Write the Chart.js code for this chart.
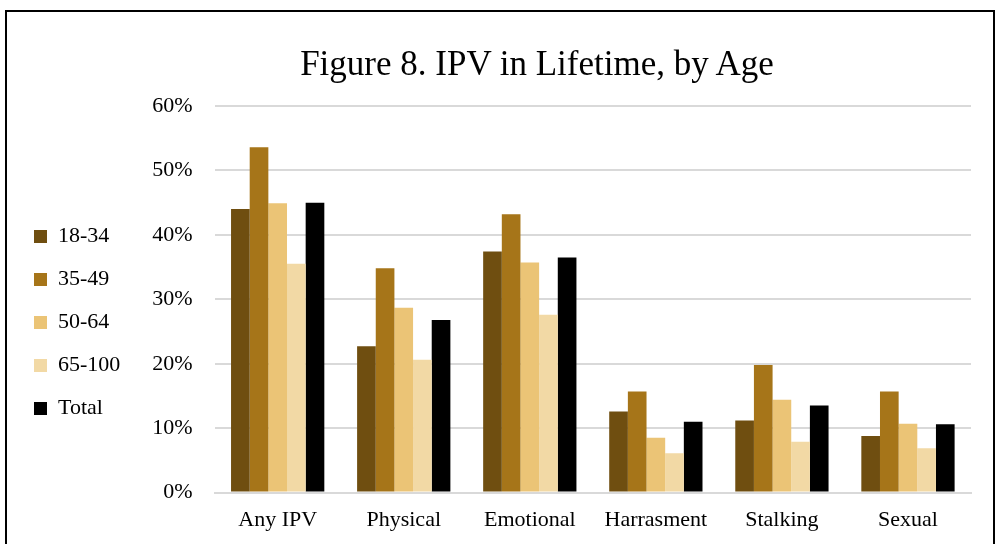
<!DOCTYPE html>
<html>
<head>
<meta charset="utf-8">
<script src="https://cdn.jsdelivr.net/npm/chart.js@4"></script>
<style>
  html, body { margin: 0; padding: 0; background: #fff; overflow: hidden; }
  #frame { position: absolute; left: 5px; top: 10px; width: 990px; height: 560px; border: 2px solid #000; box-sizing: border-box; }
  #wrap { position: absolute; left: 0; top: 0; width: 986px; height: 534px; }
  #title { position: absolute; left: 0; width: 1074px; top: 44px; text-align: center;
           font-family: 'Liberation Serif', 'DejaVu Serif', serif; font-size: 35px; line-height: 40px; color: #000; }
</style>
</head>
<body>
<div id="frame"><div id="wrap"><canvas id="ipvChart"></canvas></div></div>
<div id="title">Figure 8. IPV in Lifetime, by Age</div>
<script>
// Данные
const categories = ['Any IPV', 'Physical', 'Emotional', 'Harrasment', 'Stalking', 'Sexual'];
const age18to34 = [44.0, 22.7, 37.4, 12.6, 11.2, 8.8];
const age35to49 = [53.6, 34.8, 43.2, 15.7, 19.8, 15.7];
const age50to64 = [44.9, 28.7, 35.7, 8.5, 14.4, 10.7];
const age65to100 = [35.5, 20.6, 27.6, 6.1, 7.9, 6.9];
const total = [45.0, 26.8, 36.5, 11.0, 13.5, 10.6];
const yTicks = [0, 10, 20, 30, 40, 50, 60];

const serif = "'Liberation Serif', 'DejaVu Serif', serif";

function series(label, data, color) {
    return {
        label: label,
        data: data,
        backgroundColor: color,
        borderWidth: 0,
        barPercentage: 1,
        categoryPercentage: 0.74
    };
}

const ctx = document.getElementById('ipvChart').getContext('2d');
new Chart(ctx, {
    type: 'bar',
    data: {
        labels: categories,
        datasets: [
            series('18-34', age18to34, '#6F4E10'),
            series('35-49', age35to49, '#A67519'),
            series('50-64', age50to64, '#EBC476'),
            series('65-100', age65to100, '#F2D9A5'),
            series('Total', total, '#000000')
        ]
    },
    options: {
        responsive: true,
        maintainAspectRatio: false,
        animation: false,
        layout: { padding: { left: 6, right: 22, top: 94, bottom: 7 } },
        plugins: {
            title: { display: false },
            legend: {
                position: 'left',
                labels: {
                    color: '#000',
                    font: { family: serif, size: 22 },
                    boxWidth: 13,
                    boxHeight: 13,
                    padding: 21
                }
            },
            tooltip: { enabled: false }
        },
        scales: {
            x: {
                grid: { display: false },
                border: { display: true, color: '#d9d9d9', width: 2 },
                ticks: { color: '#000', font: { family: serif, size: 22 }, padding: 6 }
            },
            y: {
                min: 0,
                max: 60,
                afterBuildTicks: (axis) => { axis.ticks = yTicks.map(v => ({ value: v })); },
                grid: { color: '#d9d9d9', lineWidth: 2, drawTicks: false },
                border: { display: false },
                ticks: {
                    color: '#000',
                    font: { family: serif, size: 22 },
                    padding: 22,
                    callback: (v) => v + '%'
                }
            }
        }
    }
});
</script>
</body>
</html>
